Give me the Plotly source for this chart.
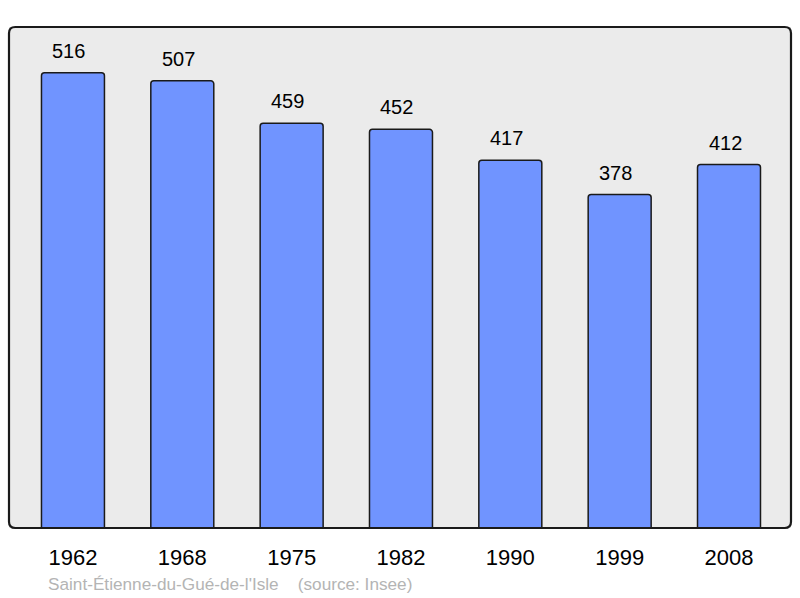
import plotly.graph_objects as go

years = ["1962", "1968", "1975", "1982", "1990", "1999", "2008"]
population = [516, 507, 459, 452, 417, 378, 412]
source_text = "Saint-Étienne-du-Gué-de-l'Isle    (source: Insee)"

fig = go.Figure()
fig.add_trace(go.Bar(
    x=list(range(len(years))),
    y=population,
    width=0.576,
    marker=dict(color="#7094FF", line=dict(color="#1a1a1a", width=1.5), cornerradius=3),
    hoverinfo="skip",
))

# value labels above each bar (sit a little left of centre, like the original)
for i, v in enumerate(population):
    fig.add_annotation(x=i, y=v, text=str(v), showarrow=False, yanchor="bottom",
                       yshift=9, xshift=-4, font=dict(size=20, color="black"))

fig.add_annotation(x=0.0473, y=-0.111, xref="paper", yref="paper", xanchor="left",
                   yanchor="middle", text=source_text, showarrow=False,
                   font=dict(size=17.2, color="#B4B4B4"))

# frame around the plot area, rounded corners
r = 0.008
fig.add_shape(type="path", xref="paper", yref="paper",
              path=f"M {r},0 L {1-r},0 Q 1,0 1,{r*1.56} L 1,{1-r*1.56} Q 1,1 {1-r},1 "
                   f"L {r},1 Q 0,1 0,{1-r*1.56} L 0,{r*1.56} Q 0,0 {r},0 Z",
              line=dict(color="#1a1a1a", width=2.2), layer="above")

fig.update_layout(
    width=800, height=598,
    margin=dict(l=9, r=9, t=27, b=70),
    paper_bgcolor="white",
    plot_bgcolor="#EBEBEB",
    showlegend=False,
    font=dict(family="Liberation Sans, Arial, sans-serif"),
    xaxis=dict(range=[-0.585, 6.567], tickvals=list(range(len(years))), ticktext=years,
               showgrid=False, zeroline=False, ticks="outside", ticklen=10,
               tickcolor="rgba(0,0,0,0)", tickfont=dict(size=22, color="black")),
    yaxis=dict(range=[0, 568], showgrid=False, zeroline=False, showticklabels=False),
)

fig.write_html("out.html", config={"displayModeBar": False},
               post_script="document.body.style.margin='0';")
